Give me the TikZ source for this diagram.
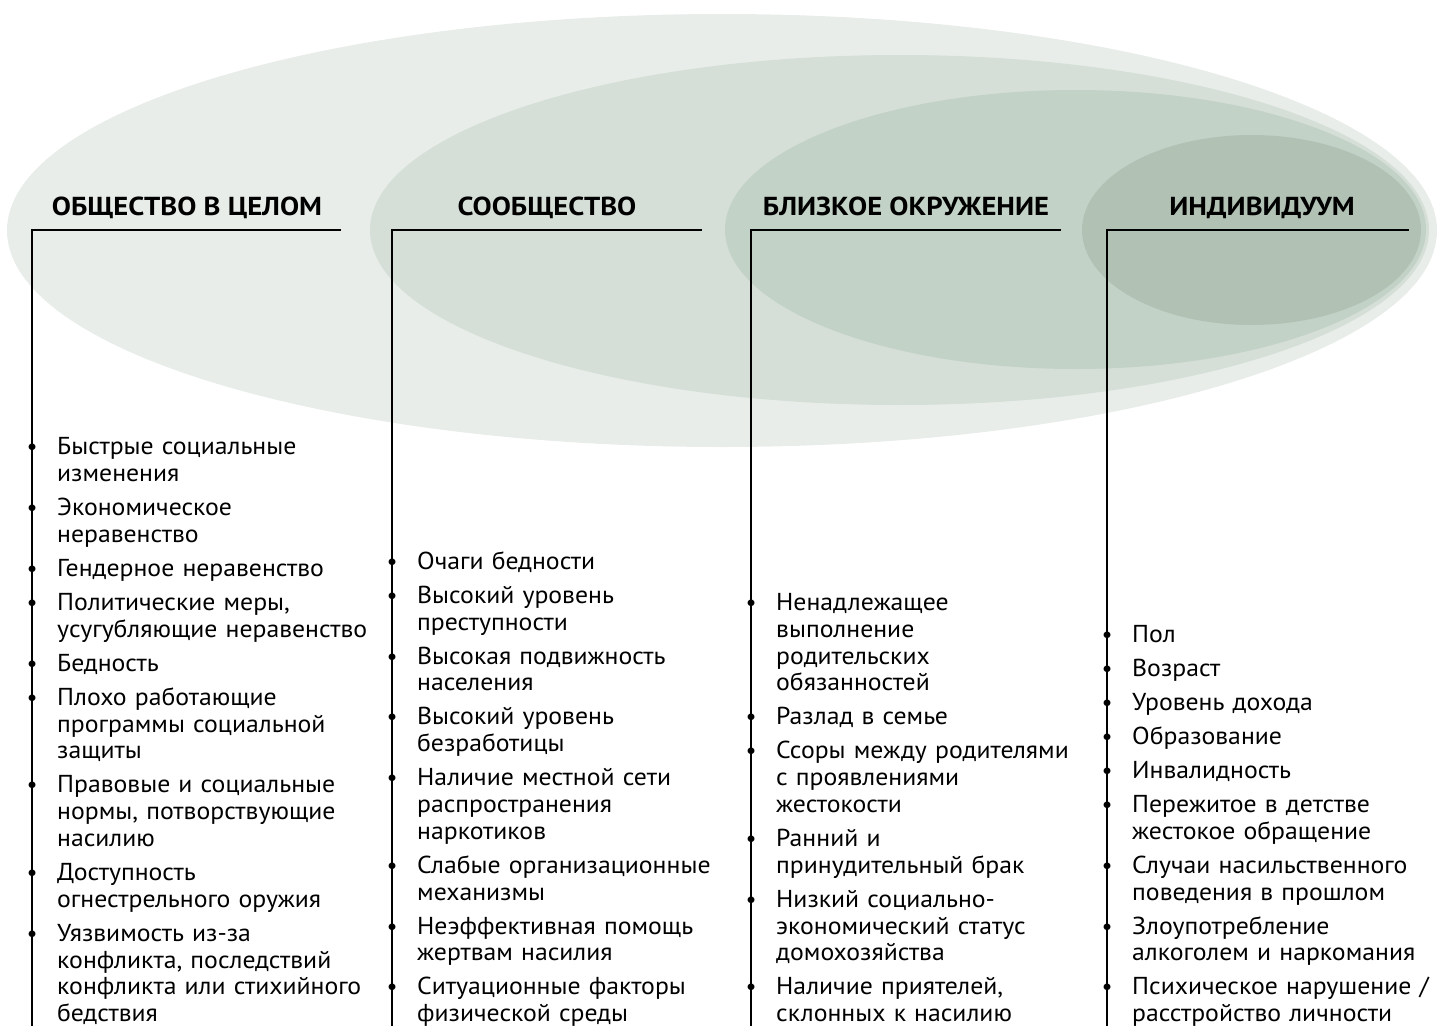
\documentclass[tikz,border=0pt]{standalone}
\usepackage{fontspec}
\setmainfont{PT Sans}
\newfontfamily\bodyfont{PT Sans}[FakeStretch=1.05]
\newfontfamily\headfont{PT Sans}[FakeStretch=1.1]
\usetikzlibrary{shapes.geometric}
\definecolor{ringA}{RGB}{232,237,233}
\definecolor{ringB}{RGB}{213,223,216}
\definecolor{ringC}{RGB}{195,210,198}
\definecolor{ringD}{RGB}{177,194,181}
\newcommand\bul{\leavevmode\llap{\makebox[0pt][c]{\scalebox{0.95}{•}}\hspace{25pt}}}
\tikzset{
  ring/.style={ellipse, inner sep=0pt, draw=none},
  headtxt/.style={font=\headfont\fontsize{26}{28}\selectfont\bfseries, anchor=base, inner sep=0pt},
  itemcol/.style={anchor=south west, inner sep=0pt, text width=345pt, align=left,
                  font=\bodyfont\fontsize{24.5}{26.8}\selectfont},
  rulez/.style={line width=1.5pt, black},
}
\begin{document}
\begin{tikzpicture}[x=1pt,y=-1pt]
\useasboundingbox (0,0) rectangle (1438,1026);
\node[ring, fill=ringA, minimum width=1430pt, minimum height=433pt] (e1) at (722,230.5) {};
\node[ring, fill=ringB, minimum width=1059pt, minimum height=350pt] (e2) at (899.5,230) {};
\node[ring, fill=ringC, minimum width=701pt, minimum height=279pt] (e3) at (1075.5,229.5) {};
\node[ring, fill=ringD, minimum width=339pt, minimum height=190pt] (e4) at (1251.5,230) {};

% headers
\node[headtxt] (h1) at (187,215) {ОБЩЕСТВО В ЦЕЛОМ};
\node[headtxt] (h2) at (547,215) {СООБЩЕСТВО};
\node[headtxt] (h3) at (906,215) {БЛИЗКОЕ ОКРУЖЕНИЕ};
\node[headtxt] (h4) at (1262,215) {ИНДИВИДУУМ};

% rules
\coordinate (r1a) at (32,230);  \coordinate (r1b) at (341,230);  \coordinate (r1c) at (32,1026);
\coordinate (r2a) at (392,230); \coordinate (r2b) at (702,230);  \coordinate (r2c) at (392,1026);
\coordinate (r3a) at (751,230); \coordinate (r3b) at (1061,230); \coordinate (r3c) at (751,1026);
\coordinate (r4a) at (1107,230);\coordinate (r4b) at (1409,230); \coordinate (r4c) at (1107,1026);
\draw[rulez] (r1b) -- (r1a) -- (r1c);
\draw[rulez] (r2b) -- (r2a) -- (r2c);
\draw[rulez] (r3b) -- (r3a) -- (r3c);
\draw[rulez] (r4b) -- (r4a) -- (r4c);

% item columns
\node[itemcol] (c1) at (57,1030) {\setlength\parindent{0pt}\setlength\parskip{7.2pt}%
\bul Быстрые социальные\newline изменения\par
\bul Экономическое\newline неравенство\par
\bul Гендерное неравенство\par
\bul Политические меры,\newline усугубляющие неравенство\par
\bul Бедность\par
\bul Плохо работающие\newline программы социальной\newline защиты\par
\bul Правовые и социальные\newline нормы, потворствующие\newline насилию\par
\bul Доступность\newline огнестрельного оружия\par
\bul Уязвимость из-за\newline конфликта, последствий\newline конфликта или стихийного\newline бедствия\strut};

\node[itemcol] (c2) at (417,1030) {\setlength\parindent{0pt}\setlength\parskip{7.2pt}%
\bul Очаги бедности\par
\bul Высокий уровень\newline преступности\par
\bul Высокая подвижность\newline населения\par
\bul Высокий уровень\newline безработицы\par
\bul Наличие местной сети\newline распространения\newline наркотиков\par
\bul Слабые организационные\newline механизмы\par
\bul Неэффективная помощь\newline жертвам насилия\par
\bul Ситуационные факторы\newline физической среды\strut};

\node[itemcol] (c3) at (776,1030) {\setlength\parindent{0pt}\setlength\parskip{7.2pt}%
\bul Ненадлежащее\newline выполнение\newline родительских\newline обязанностей\par
\bul Разлад в семье\par
\bul Ссоры между родителями\newline с проявлениями\newline жестокости\par
\bul Ранний и\newline принудительный брак\par
\bul Низкий социально-\newline экономический статус\newline домохозяйства\par
\bul Наличие приятелей,\newline склонных к насилию\strut};

\node[itemcol] (c4) at (1132,1030) {\setlength\parindent{0pt}\setlength\parskip{7.2pt}%
\bul Пол\par
\bul Возраст\par
\bul Уровень дохода\par
\bul Образование\par
\bul Инвалидность\par
\bul Пережитое в детстве\newline жестокое обращение\par
\bul Случаи насильственного\newline поведения в прошлом\par
\bul Злоупотребление\newline алкоголем и наркомания\par
\bul Психическое нарушение /\newline расстройство личности\strut};
\end{tikzpicture}
\end{document}
